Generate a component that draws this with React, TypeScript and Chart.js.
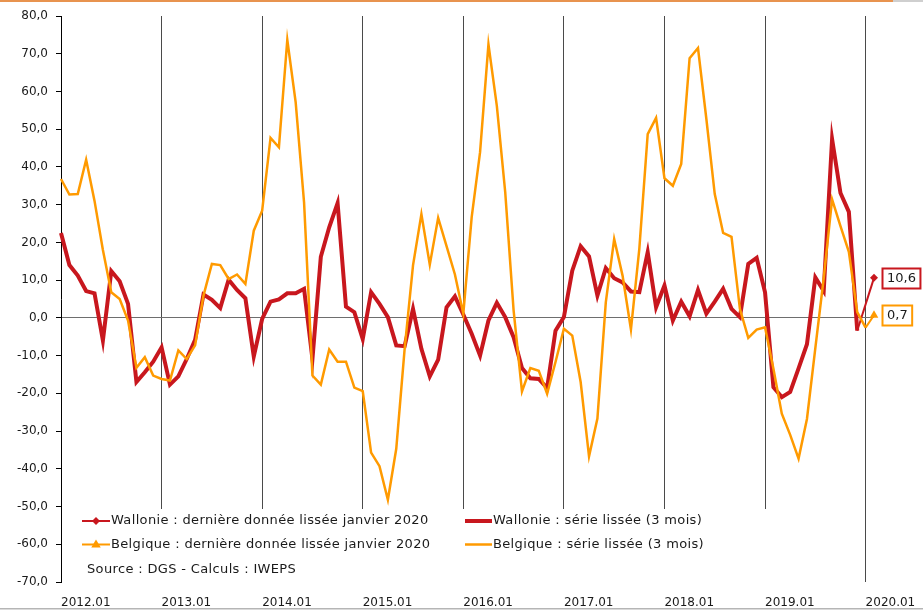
import React, { useEffect, useRef } from "react";
import { Chart, registerables } from "chart.js";

Chart.register(...registerables);

// ---- categories (monthly, 2012.01 ... ) ----
const years = ["2012", "2013", "2014", "2015", "2016", "2017", "2018", "2019", "2020"];
const months = ["01", "02", "03", "04", "05", "06", "07", "08", "09", "10", "11", "12"];
const allMonths: string[] = [];
for (const y of years) for (const m of months) allMonths.push(`${y}.${m}`);
const categories = allMonths.slice(0, 98);

// tick labels shown on the x axis
const yearTickLabels = ["2012.01", "2013.01", "2014.01", "2015.01", "2016.01", "2017.01", "2018.01", "2019.01", "2020.01"];

// ---- series values ----
const wallonieSerie = [
  22.5, 14.0, 11.2, 7.1, 6.5, -6.0, 12.4, 9.7, 3.7, -17.0, -14.4, -11.6,
  -7.8, -17.7, -15.5, -10.9, -5.8, 6.2, 4.8, 2.6, 10.1, 7.4, 5.2, -10.2,
  -0.3, 4.3, 4.9, 6.5, 6.5, 7.7, -10.9, 16.2, 24.0, 30.4, 3.0, 1.5,
  -5.6, 6.8, 3.7, 0.2, -7.3, -7.5, 2.4, -8.2, -15.5, -11.1, 2.8, 5.7,
  0.9, -4.2, -10.0, -0.7, 4.0, 0.2, -5.1, -13.3, -16.0, -16.2, -18.6, -3.4,
  0.2, 12.5, 19.0, 16.3, 5.9, 13.2, 10.5, 9.4, 7.0, 6.8, 17.4, 2.8,
  8.6, -0.7, 4.3, 0.4, 7.4, 1.1, 4.3, 7.7, 2.4, 0.2, 14.3, 15.9,
  6.8, -18.4, -21.0, -19.6, -13.4, -7.0, 10.7, 7.1, 47.4, 33.1, 28.1, -3.4,
];

const belgiqueSerie = [
  36.8, 32.7, 32.8, 41.9, 31.0, 18.0, 6.8, 5.0, -0.7, -13.2, -10.4, -15.3,
  -16.2, -16.6, -8.6, -10.9, -7.3, 5.9, 14.3, 14.0, 10.3, 11.5, 9.0, 23.1,
  28.4, 47.7, 45.2, 73.7, 57.1, 30.6, -15.3, -17.7, -8.4, -11.6, -11.6, -18.5,
  -19.4, -35.7, -39.3, -48.2, -34.7, -8.2, 13.9, 27.5, 14.1, 26.5, 19.0, 11.5,
  1.1, 26.7, 43.9, 72.5, 56.2, 33.3, 2.0, -19.5, -13.3, -14.0, -20.1, -11.7,
  -2.9, -4.7, -17.0, -36.7, -26.7, 4.1, 20.9, 11.2, -3.1, 18.3, 48.7, 53.0,
  37.0, 35.0, 40.8, 68.8, 71.5, 52.7, 32.8, 22.5, 21.5, 2.4, -5.3, -3.1,
  -2.5, -13.5, -25.4, -31.0, -37.3, -26.8, -8.0, 10.5, 31.4, 24.3, 17.5, 1.5,
  -2.6,
];

// "dernière donnée lissée janvier 2020" segments
const wallonieDerniereCats = ["2019.12", "2020.02"];
const wallonieDerniereVals = [-3.4, 10.6];
const belgiqueDerniereCats = ["2020.01", "2020.02"];
const belgiqueDerniereVals = [-2.6, 0.7];

const RED = "#C8171E";
const ORANGE = "#FF9A00";
const TEXT = "#1a1a1a";
const FONT = "'DejaVu Sans'";

const fmt = (v: number) => v.toFixed(1).replace(".", ",");

function drawMarker(ctx: CanvasRenderingContext2D, kind: string, x: number, y: number, r: number, color: string) {
  ctx.save();
  ctx.fillStyle = color;
  ctx.beginPath();
  if (kind === "diamond") {
    ctx.moveTo(x, y - r);
    ctx.lineTo(x + r, y);
    ctx.lineTo(x, y + r);
    ctx.lineTo(x - r, y);
  } else {
    ctx.moveTo(x, y - r);
    ctx.lineTo(x + r * 0.95, y + r * 0.6);
    ctx.lineTo(x - r * 0.95, y + r * 0.6);
  }
  ctx.closePath();
  ctx.fill();
  ctx.restore();
}

const decoPlugin = {
  id: "deco",
  beforeDraw(chart: any) {
    const ctx: CanvasRenderingContext2D = chart.ctx;
    ctx.save();
    ctx.fillStyle = "#ffffff";
    ctx.fillRect(0, 0, chart.width, chart.height);
    ctx.fillStyle = "#E8934F";
    ctx.fillRect(0, 0, 893, 2);
    ctx.fillStyle = "#cfcfcf";
    ctx.fillRect(893, 0, chart.width - 893, 2);
    ctx.fillStyle = "#b5b5b5";
    ctx.fillRect(0, 608, chart.width, 1.5);
    ctx.restore();
  },
  afterDatasetsDraw(chart: any) {
    const ctx: CanvasRenderingContext2D = chart.ctx;
    const area = chart.chartArea;
    ctx.save();
    // legend background
    ctx.fillStyle = "#ffffff";
    ctx.fillRect(area.left + 6, 509, 790 - area.left - 6, area.bottom - 509 + 1);

    (ctx as any).letterSpacing = "0.35px";
    ctx.font = `13px ${FONT}`;
    ctx.textBaseline = "middle";
    ctx.textAlign = "left";
    ctx.lineCap = "butt";

    const rows = [521, 544.5];
    // column 1
    ctx.strokeStyle = RED;
    ctx.lineWidth = 2;
    ctx.beginPath();
    ctx.moveTo(82, rows[0]);
    ctx.lineTo(110, rows[0]);
    ctx.stroke();
    drawMarker(ctx, "diamond", 96, rows[0], 4, RED);
    ctx.fillStyle = TEXT;
    ctx.fillText("Wallonie : dernière donnée lissée janvier 2020", 111, rows[0]);

    ctx.strokeStyle = ORANGE;
    ctx.lineWidth = 2;
    ctx.beginPath();
    ctx.moveTo(82, rows[1]);
    ctx.lineTo(110, rows[1]);
    ctx.stroke();
    drawMarker(ctx, "triangle", 96, rows[1], 5, ORANGE);
    ctx.fillStyle = TEXT;
    ctx.fillText("Belgique : dernière donnée lissée janvier 2020", 111, rows[1]);

    // column 2
    ctx.strokeStyle = RED;
    ctx.lineWidth = 4;
    ctx.beginPath();
    ctx.moveTo(465, rows[0]);
    ctx.lineTo(492, rows[0]);
    ctx.stroke();
    ctx.fillStyle = TEXT;
    ctx.fillText("Wallonie : série lissée (3 mois)", 493, rows[0]);

    ctx.strokeStyle = ORANGE;
    ctx.lineWidth = 2.5;
    ctx.beginPath();
    ctx.moveTo(465, rows[1]);
    ctx.lineTo(492, rows[1]);
    ctx.stroke();
    ctx.fillStyle = TEXT;
    ctx.fillText("Belgique : série lissée (3 mois)", 493, rows[1]);

    ctx.fillText("Source : DGS - Calculs : IWEPS", 87, 570);

    // value boxes at last points
    const boxes = [
      { ds: 1, val: wallonieDerniereVals[wallonieDerniereVals.length - 1], color: RED },
      { ds: 3, val: belgiqueDerniereVals[belgiqueDerniereVals.length - 1], color: ORANGE },
    ];
    ctx.font = `13px ${FONT}`;
    (ctx as any).letterSpacing = "0px";
    for (const b of boxes) {
      const meta = chart.getDatasetMeta(b.ds);
      const pt = meta.data[meta.data.length - 1];
      const txt = fmt(b.val);
      const w = ctx.measureText(txt).width + 9;
      const h = 20;
      const bx = 882.5;
      const by = Math.round(pt.y - h / 2) + 0.5;
      ctx.fillStyle = "#ffffff";
      ctx.fillRect(bx, by, w, h);
      ctx.strokeStyle = b.color;
      ctx.lineWidth = 2;
      ctx.strokeRect(bx, by, w, h);
      ctx.fillStyle = TEXT;
      ctx.textAlign = "center";
      ctx.fillText(txt, bx + w / 2, by + h / 2 + 0.5);
    }
    ctx.restore();
  },
};

export default function App() {
  const ref = useRef<HTMLCanvasElement | null>(null);

  useEffect(() => {
    document.body.style.margin = "0";
    if (!ref.current) return;
    const chart = new Chart(ref.current, {
      type: "line",
      data: {
        labels: categories,
        datasets: [
          {
            label: "Belgique : série lissée (3 mois)",
            data: belgiqueSerie,
            borderColor: ORANGE,
            borderWidth: 2.5,
            pointRadius: 0,
            tension: 0,
          },
          {
            label: "Wallonie : dernière donnée lissée janvier 2020",
            data: wallonieDerniereCats.map((c, i) => ({ x: c, y: wallonieDerniereVals[i] })),
            borderColor: RED,
            backgroundColor: RED,
            borderWidth: 2,
            pointStyle: "rectRot",
            pointRadius: (c: any) => (c.dataIndex === wallonieDerniereVals.length - 1 ? 4 : 0),
            pointBorderWidth: 0,
            tension: 0,
          },
          {
            label: "Wallonie : série lissée (3 mois)",
            data: wallonieSerie,
            borderColor: RED,
            borderWidth: 4,
            pointRadius: 0,
            tension: 0,
          },
          {
            label: "Belgique : dernière donnée lissée janvier 2020",
            data: belgiqueDerniereCats.map((c, i) => ({ x: c, y: belgiqueDerniereVals[i] })),
            borderColor: ORANGE,
            backgroundColor: ORANGE,
            borderWidth: 2,
            pointStyle: "triangle",
            pointRadius: (c: any) => (c.dataIndex === belgiqueDerniereVals.length - 1 ? 5 : 0),
            pointBorderWidth: 0,
            tension: 0,
          },
        ],
      },
      options: {
        animation: false,
        responsive: true,
        maintainAspectRatio: false,
        layout: { padding: { top: 16, right: 49, bottom: 0, left: 0 } },
        plugins: { legend: { display: false }, tooltip: { enabled: false } },
        scales: {
          x: {
            type: "category",
            offset: false,
            border: { display: false },
            grid: {
              drawTicks: false,
              lineWidth: 1,
              color: (c: any) =>
                c.index > 0 && yearTickLabels.includes(categories[c.index]) ? "#4a4a4a" : "rgba(0,0,0,0)",
            },
            ticks: {
              autoSkip: false,
              maxRotation: 0,
              minRotation: 0,
              align: "start",
              padding: 14,
              color: TEXT,
              font: { family: FONT, size: 12 },
              callback: (_v: any, i: number) => (yearTickLabels.includes(categories[i]) ? categories[i] : ""),
            },
            afterFit: (s: any) => {
              s.height = 29;
            },
          },
          y: {
            min: -70,
            max: 80,
            border: { display: true, color: "#000", width: 1 },
            grid: {
              color: (c: any) => (c.tick && c.tick.value === 0 ? "#6e6e6e" : "rgba(0,0,0,0)"),
              tickColor: "#000",
              tickLength: 5,
              lineWidth: 1,
            },
            ticks: {
              stepSize: 10,
              padding: 8,
              color: TEXT,
              font: { family: FONT, size: 12 },
              callback: (v: any) => fmt(Number(v)),
            },
            afterFit: (s: any) => {
              s.width = 61;
            },
          },
        },
      },
      plugins: [decoPlugin],
    } as any);
    return () => chart.destroy();
  }, []);

  return (
    <div style={{ width: 923, height: 611, position: "relative" }}>
      <canvas ref={ref} />
    </div>
  );
}
